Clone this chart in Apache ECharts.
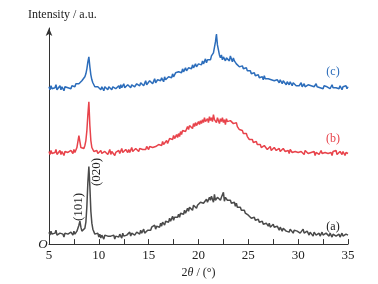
<!DOCTYPE html>
<html>
<head>
<meta charset="utf-8">
<script src="https://cdn.jsdelivr.net/npm/echarts@6/dist/echarts.min.js"></script>
<style>
  html, body { margin: 0; padding: 0; background: #fff; }
  #main { width: 378px; height: 284px; }
</style>
</head>
<body>
<div id="main"></div>
<script>
// XRD patterns, 2theta from 5 to 35 deg, one reading per 0.1 deg (offset stacked, arb. units)
var scanStart = 5, scanStep = 0.1;

// (a) gray
var yA = [
  12,9,13,10,8,12,11,14,9,10,
  8,11,9,12,10,7,11,13,9,10,
  11,8,12,10,9,13,10,11,13,15,
  19,23,17,13,14,12,16,22,38,62,
  78,58,33,21,15,13,10,12,9,11,
  7,10,6,9,8,5,9,10,7,8,
  9,6,8,10,7,9,5,8,10,8,
  7,10,9,6,11,8,10,7,9,11,
  9,12,8,11,10,13,9,11,12,10,
  13,10,14,11,12,15,11,13,12,14,
  13,16,14,17,15,16,19,15,18,17,
  19,17,21,18,22,20,19,23,21,24,
  22,26,23,25,28,24,27,25,29,27,
  30,27,31,29,33,30,34,31,33,36,
  33,37,35,38,34,39,37,40,36,39,
  41,38,42,40,44,41,43,39,45,42,
  43,47,44,48,45,42,50,44,46,47,
  45,49,44,47,46,52,43,47,45,44,
  46,42,44,41,43,40,42,38,41,37,
  38,35,37,34,35,32,34,31,33,30,
  29,27,30,26,28,25,27,24,26,23,
  25,22,24,21,23,20,22,19,21,20,
  18,21,17,19,16,20,17,18,15,18,
  16,14,17,15,13,16,14,17,13,15,
  14,12,15,13,14,11,14,12,15,13,
  12,14,11,13,12,15,11,13,10,13,
  11,9,12,10,11,8,12,10,9,11,
  9,11,8,10,12,9,10,7,11,9,
  10,8,11,9,7,10,9,11,8,10,
  8,10,7,9,11,8,9,6,10,8,
  9
];

// (b) red
var yB = [
  93,90,94,91,89,93,92,95,90,92,
  91,94,90,93,92,89,93,95,91,92,
  93,90,94,92,91,95,92,94,97,103,
  109,103,97,95,97,96,99,104,114,130,
  143,119,104,97,95,93,95,92,94,91,
  93,90,94,91,92,89,93,91,94,90,
  92,95,90,93,91,94,89,92,93,91,
  94,91,93,96,92,94,91,95,93,92,
  95,92,94,97,93,95,92,96,94,95,
  93,96,94,97,95,93,97,95,98,96,
  95,98,96,99,97,95,99,98,100,97,
  100,98,101,99,103,100,102,99,104,101,
  103,106,104,107,105,109,106,108,110,107,
  111,108,113,110,114,112,116,113,115,118,
  115,119,117,120,116,121,118,122,119,121,
  123,120,124,121,125,122,127,123,124,126,
  122,128,124,127,123,130,125,126,122,127,
  125,121,126,123,127,122,125,120,126,123,
  125,121,124,122,126,121,123,119,122,118,
  118,115,116,113,114,111,113,110,111,108,
  108,105,107,104,105,102,104,101,103,100,
  101,98,100,97,99,96,99,97,98,95,
  97,95,98,94,96,93,97,95,94,96,
  94,96,93,95,92,96,94,93,95,92,
  94,91,95,93,92,94,91,93,95,92,
  92,94,91,93,95,92,90,94,92,93,
  91,93,90,92,94,91,93,89,92,91,
  93,90,92,94,91,89,93,92,90,93,
  91,93,90,92,89,93,91,92,94,90,
  92,89,93,91,90,93,91,89,92,90,
  91
];

// (c) blue
var yC = [
  158,155,159,156,154,158,157,160,155,157,
  156,159,155,158,157,154,158,156,159,157,
  155,158,156,159,157,160,158,161,159,162,
  161,163,162,164,163,166,168,171,176,183,
  188,178,170,165,162,160,158,159,157,158,
  156,159,155,158,157,154,158,156,159,155,
  158,156,159,155,158,157,160,156,158,157,
  159,156,160,157,158,161,157,159,156,160,
  158,161,157,160,159,162,158,160,161,159,
  161,159,162,160,163,159,161,164,160,162,
  161,164,162,165,161,163,166,162,164,165,
  163,166,164,167,165,163,168,165,167,166,
  168,166,170,167,171,168,169,172,170,171,
  173,171,174,172,176,173,175,177,174,176,
  177,175,179,176,180,177,179,181,178,180,
  181,179,182,180,184,181,183,186,182,185,
  184,187,185,189,188,192,194,203,211,200,
  195,190,187,190,185,188,186,184,187,185,
  187,184,189,186,183,187,184,185,181,183,
  181,178,180,177,179,176,178,175,177,174,
  175,172,174,171,173,170,172,169,171,168,
  170,167,169,166,168,165,169,166,167,165,
  166,164,167,165,163,166,164,166,163,165,
  164,162,165,163,161,164,162,163,160,163,
  162,160,163,161,159,162,160,162,159,161,
  161,159,160,162,158,160,161,158,160,159,
  160,158,161,159,157,160,158,159,161,158,
  158,160,157,159,158,156,159,157,160,158,
  157,159,156,158,160,157,155,158,157,159,
  158,156,159,157,155,158,156,157,159,156,
  158
];

var xTicks = [5, 10, 15, 20, 25, 30, 35];
var seriesNames = ['(a)', '(b)', '(c)'];
var seriesColors = ['#4a4a4a', '#e8434b', '#2c6dbb'];

function pairs(ys) {
  return ys.map(function (v, i) {
    return [+(scanStart + i * scanStep).toFixed(1), v];
  });
}

var chart = echarts.init(document.getElementById('main'));
var serif = '"Liberation Serif", "DejaVu Serif", serif';

var option = {
  animation: false,
  textStyle: { fontFamily: serif },
  grid: { left: 49, right: 30, top: 28, bottom: 39 },
  xAxis: {
    type: 'value',
    min: 5, max: 35, interval: 2.5,
    name: '2{i|θ} / (°)',
    nameLocation: 'middle',
    nameGap: 22,
    nameTextStyle: {
      fontFamily: serif, fontSize: 12, color: '#222',
      rich: { i: { fontStyle: 'italic', fontFamily: serif, fontSize: 12, color: '#222' } }
    },
    axisLine: { lineStyle: { color: '#333', width: 1 } },
    axisTick: { inside: true, length: 5, lineStyle: { color: '#333' } },
    axisLabel: {
      fontFamily: serif, fontSize: 13, color: '#222', margin: 5,
      formatter: function (v) { return xTicks.indexOf(v) >= 0 ? String(v) : ''; }
    },
    splitLine: { show: false }
  },
  yAxis: {
    type: 'value',
    min: 0, max: 217,
    axisLine: { show: true, symbol: ['none', 'arrow'], symbolSize: [5, 8], lineStyle: { color: '#333', width: 1 } },
    axisTick: { show: false },
    axisLabel: { show: false },
    splitLine: { show: false }
  },
  series: [yA, yB, yC].map(function (ys, k) {
    return {
      name: seriesNames[k],
      type: 'line',
      data: pairs(ys),
      showSymbol: false,
      symbol: 'none',
      lineStyle: { color: seriesColors[k], width: 1.5 },
      z: 3 - k
    };
  }),
  graphic: [
    { type: 'text', left: 28, top: 9, style: { text: 'Intensity / a.u.', font: '12px ' + serif, fill: '#222' } },
    { type: 'text', x: 43, y: 245, style: { text: 'O', font: 'italic 13px ' + serif, fill: '#222', align: 'center', verticalAlign: 'middle' } },
    { type: 'text', x: 333, y: 72, style: { text: seriesNames[2], font: '12px ' + serif, fill: seriesColors[2], align: 'center', verticalAlign: 'middle' } },
    { type: 'text', x: 333, y: 139, style: { text: seriesNames[1], font: '12px ' + serif, fill: seriesColors[1], align: 'center', verticalAlign: 'middle' } },
    { type: 'text', x: 333, y: 227, style: { text: seriesNames[0], font: '12px ' + serif, fill: '#222', align: 'center', verticalAlign: 'middle' } },
    { type: 'text', x: 79, y: 207, rotation: Math.PI / 2, style: { text: '(101)', font: '13px ' + serif, fill: '#222', align: 'center', verticalAlign: 'middle' } },
    { type: 'text', x: 97, y: 172, rotation: Math.PI / 2, style: { text: '(020)', font: '13px ' + serif, fill: '#222', align: 'center', verticalAlign: 'middle' } }
  ]
};
chart.setOption(option);
</script>
</body>
</html>
